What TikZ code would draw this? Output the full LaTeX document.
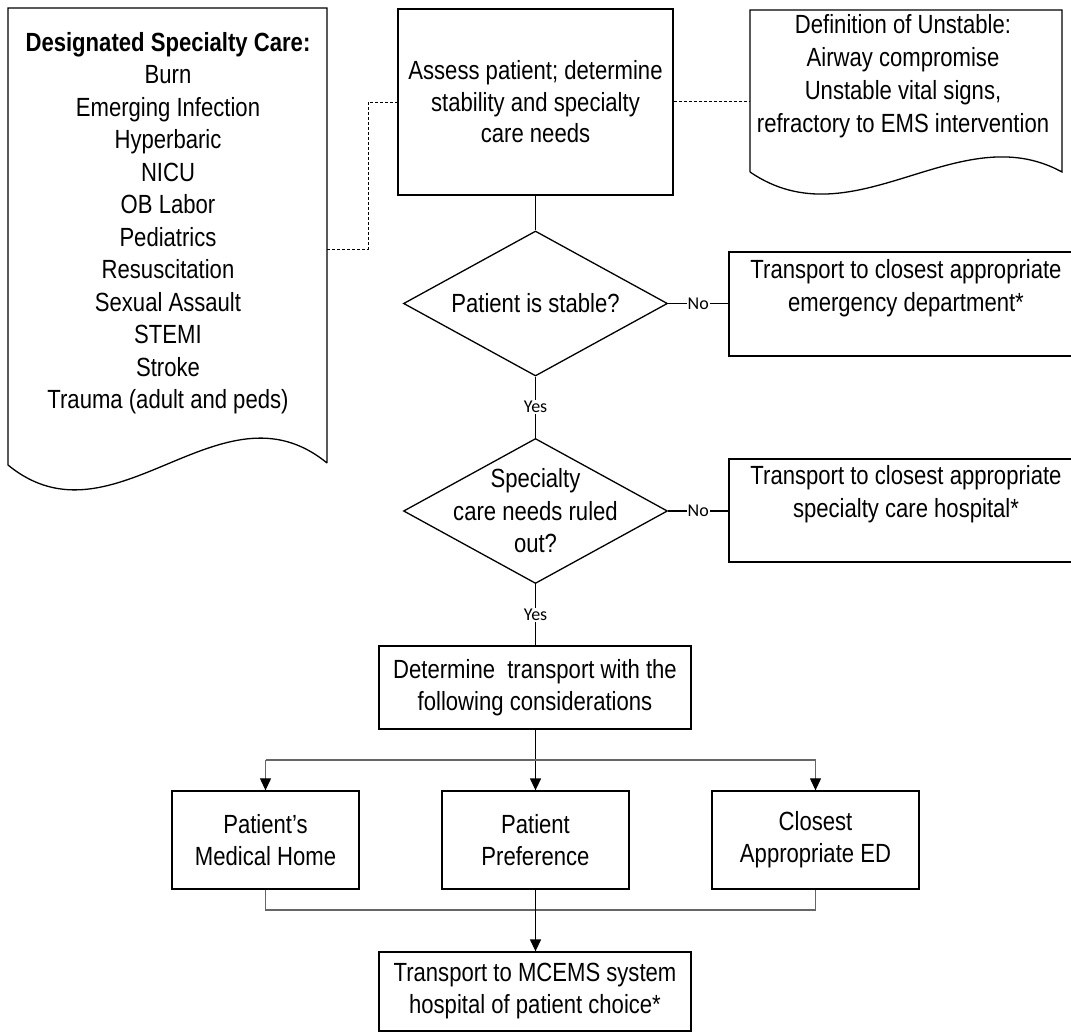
\documentclass[tikz,border=0pt]{standalone}
\usepackage{fontspec}
\setmainfont[FakeStretch=0.84]{Liberation Sans}
\newfontfamily\lblfont{Carlito}
\usetikzlibrary{shapes.geometric,arrows.meta}
\begin{document}
\begin{tikzpicture}[x=1pt,y=-1pt,
  every node/.style={font=\fontsize{26.3}{32.5}\selectfont, align=center, inner sep=0pt},
  boxnode/.style={draw, line width=1.3pt, rectangle},
  decnode/.style={draw, line width=1.3pt, diamond, minimum width=264pt, minimum height=145pt},
  lbl/.style={font=\lblfont\fontsize{18}{19}\selectfont, fill=white, inner sep=1.2pt},
  conn/.style={line width=1.3pt},
  docline/.style={line width=1.3pt, line join=miter},
  dashline/.style={line width=0.8pt, dash pattern=on 3pt off 2pt},
  arr/.style={line width=1.3pt, -{Triangle[length=12pt,width=11pt]}},
  garr/.style={line width=1.1pt, draw=black!60, -{Triangle[length=12pt,width=11pt,color=black]}},
  gline/.style={line width=1.1pt, draw=black!60}]
\clip (0,0) rectangle (1071,1032);

% left document
\draw[docline] (327,463) -- (327,8) -- (8,8) -- (8,465)
  .. controls (114,552) and (221,376) .. (327,463);
\node (ldoc) at (168,223) {{\bfseries Designated Specialty Care:}\\Burn\\Emerging Infection\\Hyperbaric\\NICU\\OB Labor\\Pediatrics\\Resuscitation\\Sexual Assault\\STEMI\\Stroke\\Trauma (adult and peds)};
\coordinate (ldocport) at (327,249);

% right document
\draw[docline] (750,172) -- (750,10) -- (1062,10) -- (1062,172)
  .. controls (958,115) and (854,243) .. (750,172);
\node[font=\fontsize{26.3}{33}\selectfont] (rdoc) at (903,76) {Definition of Unstable:\\Airway compromise\\Unstable vital signs,\\refractory to EMS intervention};
\coordinate (rdocport) at (750,101);

% assess box
\node[boxnode, minimum width=275pt, minimum height=186pt, font=\fontsize{26.3}{31.5}\selectfont] (assess) at (535.5,102) {Assess patient; determine\\stability and specialty\\care needs};

% decisions
\node[decnode] (d1) at (535.5,303.5) {};
\node (d1t) at (535.5,303.5) {Patient is stable?};
\node[decnode] (d2) at (535.5,511) {};
\node (d2t) at (535.5,511) {Specialty\\care needs ruled\\out?};

% right boxes
\node[boxnode, minimum width=360pt, minimum height=104pt] (box1) at (909,304) {};
\node (box1t) at (906,288) {Transport to closest appropriate\\emergency department*};
\node[boxnode, minimum width=360pt, minimum height=103pt] (box2) at (909,510.5) {};
\node (box2t) at (906,494) {Transport to closest appropriate\\specialty care hospital*};

% determine
\node[boxnode, minimum width=312pt, minimum height=83pt, font=\fontsize{26.3}{32}\selectfont] (det) at (535,687.5) {Determine\ \ transport with the\\following considerations};

% three options
\node[boxnode, minimum width=187pt, minimum height=98pt, font=\fontsize{26.3}{32}\selectfont] (opt1) at (265.5,840) {Patient’s\\Medical Home};
\node[boxnode, minimum width=187pt, minimum height=98pt, font=\fontsize{26.3}{32}\selectfont] (opt2) at (535.5,840) {Patient\\Preference};
\node[boxnode, minimum width=207pt, minimum height=98pt, font=\fontsize{26.3}{32}\selectfont] (opt3) at (815.5,840) {Closest\\Appropriate ED};

% final
\node[boxnode, minimum width=312pt, minimum height=79pt, font=\fontsize{26.3}{32}\selectfont] (final) at (535,991.5) {Transport to MCEMS system\\hospital of patient choice*};

% connectors
\draw[dashline] (ldocport) -- ++(41,0) |- (assess.west);
\draw[dashline] (assess.east |- rdocport) -- (rdocport);
\draw[conn] (assess.south) -- (d1.north);
\draw[conn] (d1.east) -- node[lbl] {No} (box1.west |- d1.east);
\draw[conn] (d1.south) -- node[lbl, pos=0.5] {Yes} (d2.north);
\draw[conn] (d2.east) -- node[lbl] {No} (box2.west |- d2.east);
\draw[conn] (d2.south) -- node[lbl, pos=0.5] {Yes} (d2.south |- det.north);
\draw[arr] (det.south -| opt2.north) -- (opt2.north);
\coordinate (bl) at (opt1.north |- 0,760);
\coordinate (br) at (opt3.north |- 0,760);
\draw[gline] (bl) -- (br);
\draw[garr] (bl) -- (opt1.north);
\draw[garr] (br) -- (opt3.north);
\draw[gline] (opt1.south) -- (opt1.south |- 0,910) -- (opt3.south |- 0,910) -- (opt3.south);
\draw[arr] (opt2.south) -- (opt2.south |- final.north);
\end{tikzpicture}
\end{document}
